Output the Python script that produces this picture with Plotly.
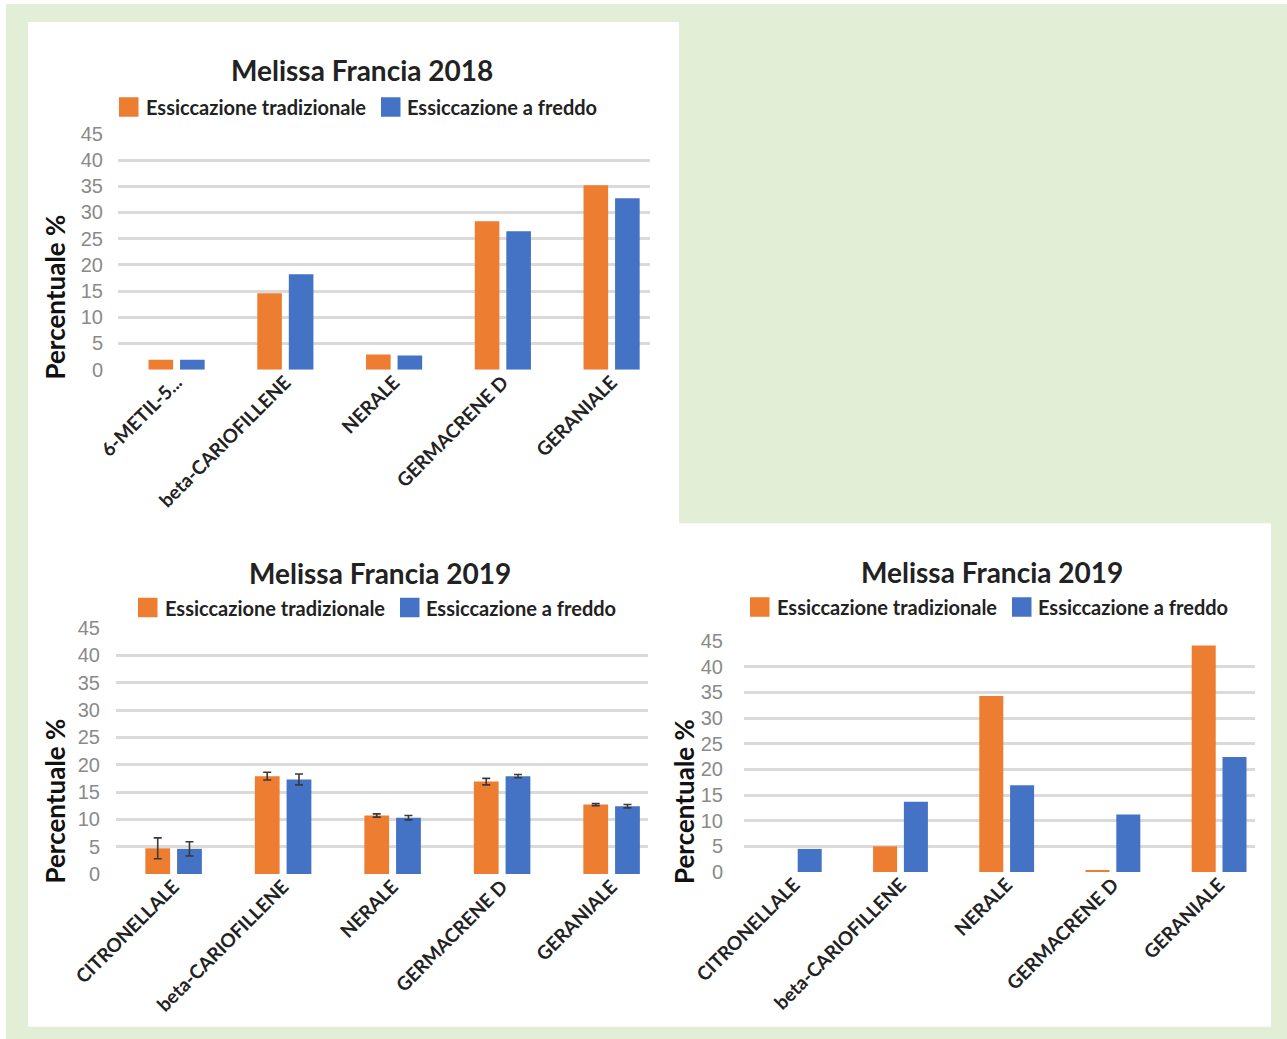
import plotly.graph_objects as go

# ---- data -------------------------------------------------------------
categories_2018 = ["6-METIL-5...", "beta-CARIOFILLENE", "NERALE", "GERMACRENE D", "GERANIALE"]
trad_2018 = [1.9, 14.6, 2.9, 28.3, 35.2]
freddo_2018 = [1.9, 18.2, 2.7, 26.4, 32.7]

categories_2019 = ["CITRONELLALE", "beta-CARIOFILLENE", "NERALE", "GERMACRENE D", "GERANIALE"]
trad_2019a = [4.7, 17.9, 10.7, 16.9, 12.7]
trad_2019a_err = [1.9, 0.7, 0.3, 0.6, 0.2]
freddo_2019a = [4.6, 17.3, 10.3, 17.9, 12.4]
freddo_2019a_err = [1.3, 1.0, 0.4, 0.3, 0.3]

trad_2019b = [0.0, 5.0, 34.3, 0.3, 44.1]
freddo_2019b = [4.5, 13.7, 16.9, 11.2, 22.4]

y_ticks = [0, 5, 10, 15, 20, 25, 30, 35, 40, 45]
series_names = ["Essiccazione tradizionale", "Essiccazione a freddo"]
titles = ["Melissa Francia 2018", "Melissa Francia 2019", "Melissa Francia 2019"]
y_title = "Percentuale %"

# ---- styling ----------------------------------------------------------
W, H = 1287, 1039
ORANGE = "#ED7D31"
BLUE = "#4472C4"
GREEN = "#E3EED6"
GRID = "#DADADA"
TXT = "#222222"
FONT = "Lato"


def fx(px):
    return px / W


def fy(py):
    return 1 - py / H


fig = go.Figure()

# panel geometry (pixels): plot box, first category centre, category step,
# title centre, legend row, axis-title centre, tick standoff
panels = [
    dict(x0=118, x1=650, y_top=133.8, y_zero=369.7, c0=176.6, step=108.75,
         title=(362, 70), leg_y=107, leg=(119, 143.7, 381, 404.5),
         ytitle=(54.5, 297), stand=14),
    dict(x0=116, x1=648, y_top=628, y_zero=874, c0=173.6, step=109.5,
         title=(379.5, 573), leg_y=607.5, leg=(138, 162.5, 400, 423.5),
         ytitle=(54.5, 801), stand=15),
    dict(x0=744, x1=1255, y_top=641, y_zero=872, c0=794.3, step=106.2,
         title=(992, 572), leg_y=607, leg=(750, 775, 1012, 1036),
         ytitle=(684, 802), stand=20),
]

datasets = [
    (categories_2018, trad_2018, freddo_2018, None, None),
    (categories_2019, trad_2019a, freddo_2019a, trad_2019a_err, freddo_2019a_err),
    (categories_2019, trad_2019b, freddo_2019b, None, None),
]

err_style = dict(type="data", color="#3A3A3A", thickness=1.6, width=4)

for i, (p, (cats, trad, fred, terr, ferr)) in enumerate(zip(panels, datasets), start=1):
    sfx = "" if i == 1 else str(i)
    fig.add_trace(go.Bar(
        x=cats, y=trad, name=series_names[0], marker_color=ORANGE,
        marker_line_width=0, showlegend=False,
        error_y=dict(array=terr, **err_style) if terr else None,
        xaxis="x" + sfx, yaxis="y" + sfx,
    ))
    fig.add_trace(go.Bar(
        x=cats, y=fred, name=series_names[1], marker_color=BLUE,
        marker_line_width=0, showlegend=False,
        error_y=dict(array=ferr, **err_style) if ferr else None,
        xaxis="x" + sfx, yaxis="y" + sfx,
    ))

    lo = (p["x0"] - p["c0"]) / p["step"]
    hi = (p["x1"] - p["c0"]) / p["step"]
    fig.update_layout(**{
        "xaxis" + sfx: dict(
            domain=[fx(p["x0"]), fx(p["x1"])], anchor="y" + sfx,
            type="category", range=[lo, hi], showgrid=False, zeroline=False,
            showline=False, ticks="", tickangle=-45, ticklabelstandoff=-3,
            automargin=False,
            tickfont=dict(family=FONT, size=19, color=TXT, weight=700),
        ),
        "yaxis" + sfx: dict(
            domain=[fy(p["y_zero"]), fy(p["y_top"])], anchor="x" + sfx,
            range=[0, 45], tickvals=y_ticks, showgrid=True, gridcolor=GRID,
            gridwidth=2.5, zeroline=False, showline=False, ticks="",
            ticklabelstandoff=p["stand"], automargin=False,
            tickfont=dict(family="Liberation Sans", size=20, color="#8A8A8A"),
        ),
    })

    # chart title
    tx, ty = p["title"]
    fig.add_annotation(x=fx(tx), y=fy(ty), xref="paper", yref="paper",
                       text=titles[i - 1], showarrow=False,
                       xanchor="center", yanchor="middle",
                       font=dict(family=FONT, size=28, color=TXT, weight=700))
    # y-axis title
    ax, ay = p["ytitle"]
    fig.add_annotation(x=fx(ax), y=fy(ay), xref="paper", yref="paper",
                       text=y_title, showarrow=False, textangle=-90,
                       xanchor="center", yanchor="middle",
                       font=dict(family=FONT, size=26, color="#111111", weight=700))
    # legend: coloured squares + labels
    sq_o, txt_o, sq_b, txt_b = p["leg"]
    ly = p["leg_y"]
    for sq, tx0, col, name in ((sq_o, txt_o, ORANGE, series_names[0]),
                               (sq_b, txt_b, BLUE, series_names[1])):
        fig.add_shape(type="rect", xref="paper", yref="paper",
                      x0=fx(sq), x1=fx(sq + 19.5), y0=fy(ly + 9.75), y1=fy(ly - 9.75),
                      fillcolor=col, line_width=0)
        fig.add_annotation(x=fx(tx0), y=fy(ly), xref="paper", yref="paper",
                           text=name, showarrow=False, xanchor="left",
                           yanchor="middle",
                           font=dict(family=FONT, size=20, color=TXT, weight=700))

# background: green frame with white chart panels
bg_shapes = [
    dict(type="rect", xref="paper", yref="paper", x0=fx(6), x1=1, y0=0, y1=fy(4),
         fillcolor=GREEN, line_width=0, layer="below"),
    dict(type="rect", xref="paper", yref="paper", x0=fx(28), x1=fx(679),
         y0=fy(1026.7), y1=fy(22), fillcolor="white", line_width=0, layer="below"),
    dict(type="rect", xref="paper", yref="paper", x0=fx(678), x1=fx(1271),
         y0=fy(1026.7), y1=fy(523.3), fillcolor="white", line_width=0, layer="below"),
]
for s in bg_shapes:
    fig.add_shape(**s)

fig.update_layout(
    width=W, height=H, autosize=False,
    margin=dict(l=0, r=0, t=0, b=0, autoexpand=False),
    paper_bgcolor="white", plot_bgcolor="rgba(0,0,0,0)",
    barmode="group", bargap=0.42, bargroupgap=0.22,
    showlegend=False,
)

fig.write_html("out.html")
